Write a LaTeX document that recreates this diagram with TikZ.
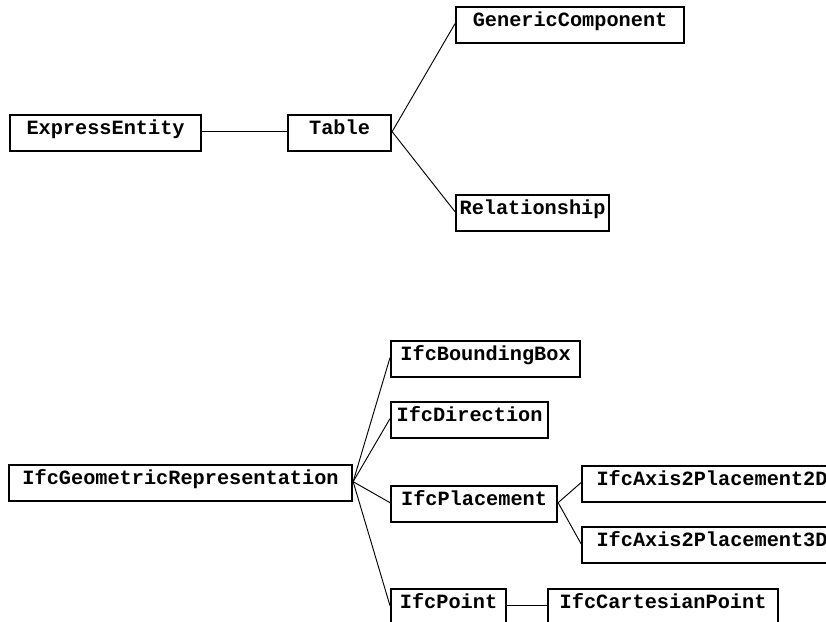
\documentclass[tikz,border=0pt]{standalone}
\usepackage{fontspec}
\setmonofont{Liberation Mono}
\begin{document}
\begin{tikzpicture}[x=0.75pt,y=-0.75pt,
  box/.style={draw, line width=1.6pt, rectangle, inner xsep=0pt, inner ysep=0pt,
    text height=14.6pt, text depth=12.4pt, anchor=north west,
    minimum width=#1*0.75pt,
    font=\ttfamily\bfseries\fontsize{15.2pt}{18pt}\selectfont},
  conn/.style={line width=0.7pt}]
\useasboundingbox (0,0) rectangle (826,622);
\clip (0,0) rectangle (826,622);
\fill[white] (0,0) rectangle (826,622);
% top tree
\node[box=191] (ee)  at (9,114)   {ExpressEntity};
\node[box=103] (tab) at (287,114) {Table};
\node[box=228] (gen) at (455,6)   {GenericComponent};
\node[box=153] (rel) at (455,194) {Relationship};
% bottom tree
\node[box=343] (geo) at (8,464)   {IfcGeometricRepresentation};
\node[box=189] (bb)  at (390,340) {IfcBoundingBox};
\node[box=157] (dir) at (390,401) {IfcDirection};
\node[box=166] (pl)  at (390,485) {IfcPlacement};
\node[box=115] (pt)  at (390,588) {IfcPoint};
\node[box=260] (a2)  at (581,465) {IfcAxis2Placement2D};
\node[box=260] (a3)  at (581,526) {IfcAxis2Placement3D};
\node[box=230] (cp)  at (547,588) {IfcCartesianPoint};
% connectors
\draw[conn] (ee.mid east) -- (tab.mid west);
\draw[conn] (tab.mid east) -- (gen.mid west);
\draw[conn] (tab.mid east) -- (rel.mid west);
\draw[conn] (geo.mid east) -- (bb.mid west);
\draw[conn] (geo.mid east) -- (dir.mid west);
\draw[conn] (geo.mid east) -- (pl.mid west);
\draw[conn] (geo.mid east) -- (pt.mid west);
\draw[conn] (pl.mid east) -- (a2.mid west);
\draw[conn] (pl.mid east) -- (a3.mid west);
\draw[conn] (pt.mid east) -- (cp.mid west);
\end{tikzpicture}
\end{document}
